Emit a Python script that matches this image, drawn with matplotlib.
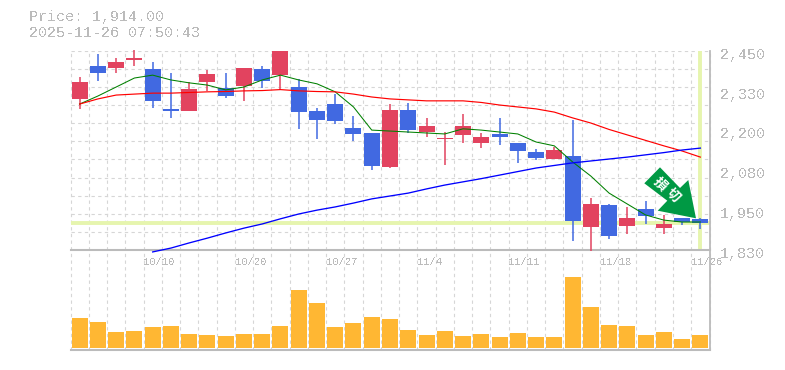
import numpy as np
import matplotlib
matplotlib.use("Agg")
import matplotlib.pyplot as plt
from matplotlib.patches import Polygon
from matplotlib.transforms import ScaledTranslation

W, H = 785, 370
MONO = "Liberation Mono"
GREY = "#BBBBBB"
GRID = "#D6D6D6"
UP = "#E2435F"
DOWN = "#4169E1"
VOL = "#FFB733"
HILITE = "#E6F5AE"
ARROW = "#009944"

price_text = "Price: 1,914.00"
time_text = "2025-11-26 07:50:43"
last_price = 1914
price_labels = ["2,450", "2,330", "2,200", "2,080", "1,950", "1,830"]
date_pos = [4, 9, 14, 19, 24, 29, 34]
date_labels = ["10/10", "10/20", "10/27", "11/4", "11/11", "11/18", "11/26"]

opens = [2300, 2402, 2396, 2421, 2393, 2269, 2262, 2353, 2334, 2340, 2393, 2374,
         2337, 2262, 2284, 2210, 2194, 2088, 2266, 2197, 2175, 2188, 2163, 2191,
         2163, 2135, 2113, 2122, 1902, 1970, 1905, 1958, 1898, 1930, 1927]
closes = [2353, 2381, 2415, 2427, 2294, 2262, 2331, 2378, 2309, 2396, 2356, 2449,
          2259, 2234, 2231, 2191, 2091, 2266, 2203, 2216, 2178, 2216, 2182, 2182,
          2138, 2116, 2141, 1920, 1973, 1873, 1930, 1936, 1911, 1917, 1914]
highs = [2368, 2440, 2427, 2452, 2415, 2381, 2353, 2390, 2381, 2396, 2402, 2449,
         2362, 2272, 2315, 2247, 2194, 2284, 2287, 2241, 2197, 2253, 2194, 2241,
         2163, 2144, 2150, 2234, 1992, 1973, 1964, 1982, 1939, 1930, 1930]
lows = [2269, 2356, 2381, 2402, 2272, 2241, 2262, 2325, 2303, 2294, 2334, 2328,
        2207, 2175, 2222, 2169, 2079, 2085, 2194, 2182, 2094, 2163, 2147, 2157,
        2101, 2110, 2113, 1858, 1827, 1864, 1880, 1911, 1880, 1908, 1895]
ma_short = [2284, 2309, 2337, 2365, 2374, 2359, 2350, 2343, 2328, 2337, 2359, 2374,
            2359, 2347, 2322, 2275, 2203, 2200, 2197, 2194, 2191, 2207, 2203, 2197,
            2191, 2166, 2154, 2104, 2060, 2007, 1973, 1939, 1923, 1917, 1917]
ma_mid = [2284, 2300, 2312, 2315, 2318, 2318, 2320, 2322, 2323, 2325, 2326, 2329,
          2325, 2323, 2322, 2315, 2306, 2300, 2297, 2294, 2294, 2294, 2289, 2281,
          2275, 2269, 2259, 2241, 2225, 2205, 2188, 2171, 2154, 2138, 2119]
ma_long_start = 4
ma_long = [1824, 1836, 1852, 1867, 1883, 1898, 1911, 1927, 1942, 1954, 1964, 1976,
           1989, 1998, 2007, 2020, 2032, 2042, 2052, 2063, 2074, 2085, 2093, 2101,
           2107, 2113, 2119, 2126, 2133, 2141, 2147]
volumes = [30, 26, 16, 17, 21, 22, 14, 13, 12, 14, 14, 22, 58, 45, 21, 25, 31, 29,
           18, 13, 17, 12, 14, 11, 15, 11, 11, 71, 41, 23, 22, 13, 16, 9, 13]
arrow_label = "損切"

fig = plt.figure(figsize=(W / 100, H / 100), dpi=100, facecolor="white")


def box(x0, ytop, x1, ybot):
    return [x0 / W, 1 - ybot / H, (x1 - x0) / W, (ybot - ytop) / H]


ax = fig.add_axes(box(70.5, 50.7, 709.5, 250))
axv = fig.add_axes(box(70.5, 250, 709.5, 350), sharex=ax)

n = len(opens)
xs = np.arange(n)
ax.set_xlim(-0.5, n - 0.5)
ax.set_ylim(1830, 2450)
axv.set_ylim(-2, 98)

grid_y = np.linspace(1830, 2450, 12)
grid_x = np.arange(n + 1) - 0.5
dash = (0, (3, 3))
for a in (ax, axv):
    a.vlines(grid_x, 0, 1, transform=a.get_xaxis_transform(), colors=GRID,
             linewidth=0.8, linestyles=dash, zorder=1, clip_on=False)
    for s in a.spines.values():
        s.set_visible(False)
    a.spines["right"].set_visible(True)
    a.spines["right"].set_color(GREY)
    a.spines["right"].set_linewidth(1.3)
    a.spines["bottom"].set_visible(True)
    a.spines["bottom"].set_color(GREY)
    a.spines["bottom"].set_linewidth(1.5)
    a.set_facecolor("none")
ax.hlines(grid_y[1:], 0, 1, transform=ax.get_yaxis_transform(), colors=GRID,
          linewidth=0.8, linestyles=dash, zorder=1)

# highlight of the latest price and time
ax.axhline(last_price, color=HILITE, linewidth=2.8, zorder=2)
ax.axvline(xs[-1], color=HILITE, linewidth=2.8, zorder=2)

colors = [UP if c >= o else DOWN for o, c in zip(opens, closes)]
bottoms = [min(o, c) for o, c in zip(opens, closes)]
heights = [max(abs(c - o), 3) for o, c in zip(opens, closes)]
ax.vlines(xs, lows, highs, colors=colors, linewidth=1.1, zorder=3, clip_on=False)
ax.bar(xs, heights, bottom=bottoms, width=0.875, color=colors, linewidth=0, zorder=4,
       clip_on=False)

line_kw = dict(zorder=5, clip_on=False, solid_joinstyle="round")
ax.plot(xs, ma_short, color="#008000", linewidth=0.75, **line_kw)
ax.plot(xs, ma_mid, color="#FF0000", linewidth=0.85, **line_kw)
ax.plot(xs[ma_long_start:], ma_long, color="#0000FF", linewidth=0.95, **line_kw)

axv.bar(xs, volumes, width=0.875, color=VOL, linewidth=0, zorder=3)

# axes text
ax.yaxis.tick_right()
ax.set_yticks(np.linspace(2450, 1830, len(price_labels)), price_labels)
ax.tick_params(axis="y", length=0, pad=7.5, labelsize=10.8, labelcolor=GREY)
shift = ScaledTranslation(0, -2.5 / 100, fig.dpi_scale_trans)
for lab in ax.get_yticklabels():
    lab.set_fontfamily(MONO)
    lab.set_antialiased(False)
    lab.set_transform(lab.get_transform() + shift)
ax.tick_params(axis="x", length=0, labelbottom=False)
axv.set_yticks([])
axv.tick_params(axis="x", length=0, labelbottom=False)
for p, lab in zip(date_pos, date_labels):
    axv.annotate(lab, xy=(p - 0.5, 1), xycoords=axv.get_xaxis_transform(),
                 xytext=(0, -12), textcoords="offset pixels", ha="left", va="center",
                 fontfamily=MONO, fontsize=7.6, color=GREY, antialiased=False,
                 annotation_clip=False, zorder=6)

fig.text(29 / W, 1 - 17.5 / H, price_text, family=MONO, fontsize=10.8, color=GREY,
         va="center", ha="left", antialiased=False)
fig.text(29 / W, 1 - 33 / H, time_text, family=MONO, fontsize=10.8, color=GREY,
         va="center", ha="left", antialiased=False)

# arrow badge
arrow_px = [(660, 167.3), (644.3, 183.3), (667.3, 200.7), (657.7, 210.7),
            (696, 218.3), (688.3, 180), (680, 188)]
fig.add_artist(Polygon([(x / W, 1 - y / H) for x, y in arrow_px], closed=True,
                       transform=fig.transFigure, facecolor=ARROW, edgecolor="none",
                       zorder=7))
for ch, (x, y) in zip(arrow_label, [(660.5, 184.5), (673, 195.5)]):
    fig.text(x / W, 1 - y / H, ch, family="Noto Sans CJK JP", fontweight="bold",
             fontsize=9.6, color="white", rotation=-45, rotation_mode="anchor",
             ha="center", va="center", zorder=8)

fig.savefig("out.png", dpi=100, facecolor="white")
